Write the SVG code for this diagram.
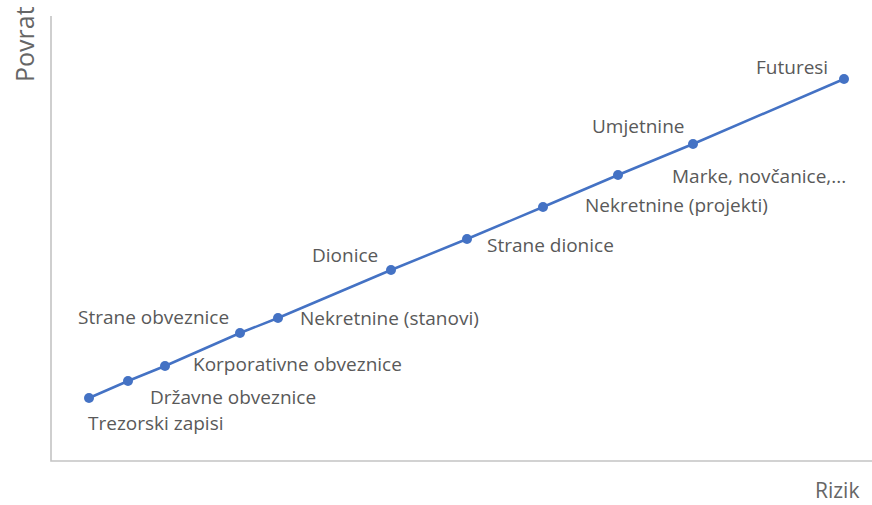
<svg xmlns="http://www.w3.org/2000/svg" width="872" height="505" viewBox="0 0 872 505">
<style>
.axis{stroke:#c4c4c4;stroke-width:1.6;fill:none}
.ln{stroke:#4472c4;stroke-width:2.5;fill:none}
.dot{fill:#4472c4}
.lbl{font-family:"Open Sans","Liberation Sans",sans-serif;font-size:19px;fill:#595959}
.ax{font-family:"Open Sans","Liberation Sans",sans-serif;fill:#666}
</style>
<rect width="872" height="505" fill="#fff"/>
<g id="axes">
<path class="axis" d="M51 16 V461 H872"/>
<text class="ax" font-size="25" transform="translate(34,82) rotate(-90)">Povrat</text>
<text class="ax" font-size="21" x="815" y="498">Rizik</text>
</g>
<g id="connectors">
<polyline class="ln" points="89,398 128,381 165,366 240,333 278,318 391,270 467,239 543,207 618,175 693,144 844,79"/>
</g>
<g id="n1"><circle class="dot" cx="89" cy="398" r="5"/><text class="lbl" x="88" y="430">Trezorski zapisi</text></g>
<g id="n2"><circle class="dot" cx="128" cy="381" r="5"/><text class="lbl" x="150" y="404">Državne obveznice</text></g>
<g id="n3"><circle class="dot" cx="165" cy="366" r="5"/><text class="lbl" x="193" y="371">Korporativne obveznice</text></g>
<g id="n4"><circle class="dot" cx="240" cy="333" r="5"/><text class="lbl" x="78" y="324">Strane obveznice</text></g>
<g id="n5"><circle class="dot" cx="278" cy="318" r="5"/><text class="lbl" x="300" y="325">Nekretnine (stanovi)</text></g>
<g id="n6"><circle class="dot" cx="391" cy="270" r="5"/><text class="lbl" x="312" y="262">Dionice</text></g>
<g id="n7"><circle class="dot" cx="467" cy="239" r="5"/><text class="lbl" x="487" y="252">Strane dionice</text></g>
<g id="n8"><circle class="dot" cx="543" cy="207" r="5"/><text class="lbl" x="585" y="212">Nekretnine (projekti)</text></g>
<g id="n9"><circle class="dot" cx="618" cy="175" r="5"/><text class="lbl" x="672" y="183">Marke, novčanice,...</text></g>
<g id="n10"><circle class="dot" cx="693" cy="144" r="5"/><text class="lbl" x="592" y="133">Umjetnine</text></g>
<g id="n11"><circle class="dot" cx="844" cy="79" r="5"/><text class="lbl" x="756" y="74">Futuresi</text></g>
</svg>
